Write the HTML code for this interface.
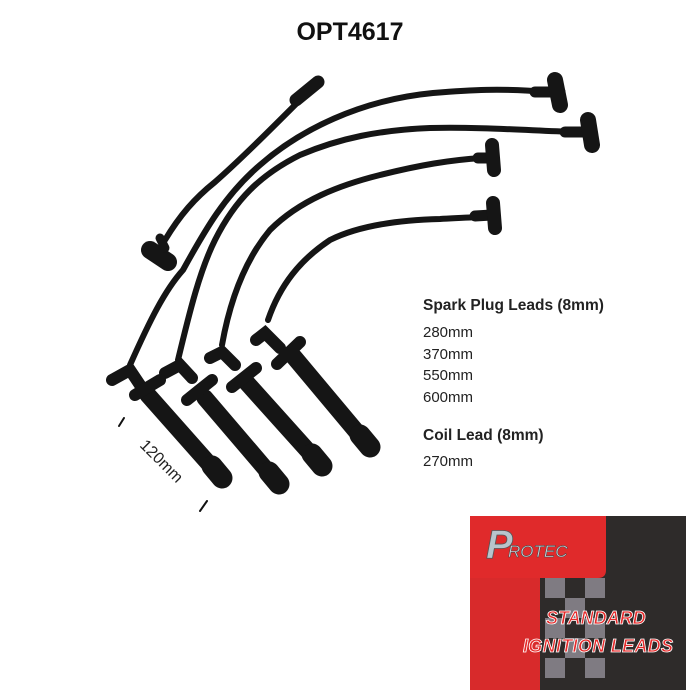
<!DOCTYPE html>
<html><head><meta charset="utf-8"><style>
body{margin:0;background:#fff;width:700px;height:700px;overflow:hidden;position:relative;font-family:"Liberation Sans",sans-serif}
.t{position:absolute;color:#222}
</style></head><body>
<div class="t" style="left:0;width:700px;top:18px;text-align:center;font-size:25px;font-weight:bold;color:#111">OPT4617</div>
<div class="t" style="left:423px;top:297px;font-size:15.5px;font-weight:bold">Spark Plug Leads (8mm)</div>
<div class="t" style="left:423px;top:322px;font-size:15px;line-height:21.5px">280mm<br>370mm<br>550mm<br>600mm</div>
<div class="t" style="left:423px;top:427px;font-size:15.5px;font-weight:bold">Coil Lead (8mm)</div>
<div class="t" style="left:423px;top:453px;font-size:15px">270mm</div>
<div class="t" style="left:134px;top:453px;font-size:16px;transform:rotate(45deg);transform-origin:center">120mm</div>
<svg width="700" height="700" style="position:absolute;left:0;top:0">
<g fill="none" stroke="#151515" stroke-linecap="round">
<!-- coil lead -->
<path d="M165 240 C180 215 195 198 215 182 C240 160 270 130 300 100" stroke-width="6"/>
<!-- lead 1 -->
<path d="M130 365 C150 320 165 290 183 270 C205 230 225 195 260 165 C300 130 360 100 433 93 C470 90 500 88 548 92" stroke-width="6"/>
<!-- lead 2 -->
<path d="M178 360 C190 310 200 270 215 240 C235 200 260 175 300 155 C340 138 380 130 430 128 C480 127 520 130 575 132" stroke-width="6"/>
<!-- lead 3 -->
<path d="M222 345 C230 300 245 260 270 230 C300 200 340 185 380 175 C420 165 450 160 482 158" stroke-width="6"/>
<!-- lead 4 -->
<path d="M268 320 C280 285 300 260 330 240 C360 225 400 220 440 219 C460 218 475 217 484 217" stroke-width="6"/>
<!-- plug tubes -->
<path d="M148 395 L218 474" stroke-width="17"/>
<path d="M205 398 L275 480" stroke-width="17"/>
<path d="M247 383 L318 462" stroke-width="17"/>
<path d="M294 357 L366 443" stroke-width="17"/>
<path d="M212 466 L222 478" stroke-width="21"/>
<path d="M269 472 L279 484" stroke-width="21"/>
<path d="M312 454 L322 466" stroke-width="21"/>
<path d="M360 435 L370 447" stroke-width="21"/>
<!-- boots -->
<path d="M112 380 L130 370 L140 385" stroke-width="12"/>
<path d="M165 373 L180 365 L192 378" stroke-width="12"/>
<path d="M210 358 L222 352 L235 365" stroke-width="12"/>
<path d="M256 340 L265 333 L280 348" stroke-width="12"/>
<path d="M135 395 L160 380" stroke-width="12"/>
<path d="M187 400 L212 380" stroke-width="12"/>
<path d="M232 387 L256 368" stroke-width="12"/>
<path d="M277 364 L300 342" stroke-width="12"/>
<!-- top boots -->
<path d="M296 100 L318 82" stroke-width="13"/>
<path d="M535 92 L560 92" stroke-width="11"/>
<path d="M555 80 L560 105" stroke-width="16"/>
<path d="M565 132 L590 132" stroke-width="11"/>
<path d="M588 120 L592 145" stroke-width="16"/>
<path d="M478 158 L492 158" stroke-width="11"/>
<path d="M492 145 L494 170" stroke-width="14"/>
<path d="M475 216 L492 215" stroke-width="11"/>
<path d="M493 203 L495 228" stroke-width="14"/>
<path d="M150 250 L168 262" stroke-width="18"/>
<path d="M160 238 L165 248" stroke-width="9"/>
<!-- ticks -->
<path d="M119 426 L124 418" stroke="#111" stroke-width="2"/>
<path d="M200 511 L207 501" stroke="#111" stroke-width="2"/>
</g>
<!-- logo -->
<rect x="470" y="516" width="216" height="174" fill="#2e2b2a"/>
<rect x="470" y="516" width="70" height="174" fill="#d82a2b"/>
<path d="M470 516 H606 V570 Q606 578 598 578 H470 Z" fill="#e02a2b"/>
<g fill="#7f7b82">
<rect x="545" y="578" width="20" height="20"/><rect x="585" y="578" width="20" height="20"/>
<rect x="565" y="598" width="20" height="20"/><rect x="545" y="618" width="20" height="20"/>
<rect x="585" y="618" width="20" height="20"/><rect x="565" y="638" width="20" height="20"/>
<rect x="545" y="658" width="20" height="20"/><rect x="585" y="658" width="20" height="20"/>
</g>
<text x="486" y="558" font-family="Liberation Sans" font-style="italic" font-weight="bold" font-size="40" fill="#b8c4cc" stroke="#555" stroke-width="0.8">P</text>
<text x="508" y="557" font-family="Liberation Sans" font-style="italic" font-size="17" fill="#c8d0d8" stroke="#444" stroke-width="0.5">ROTEC</text>
<text x="546" y="624" font-family="Liberation Sans" font-style="italic" font-weight="bold" font-size="18" fill="#e62b2b" stroke="#fff" stroke-width="0.8">STANDARD</text>
<text x="523" y="652" font-family="Liberation Sans" font-style="italic" font-weight="bold" font-size="18" fill="#e62b2b" stroke="#fff" stroke-width="0.8" textLength="150">IGNITION LEADS</text>
</svg>
</body></html>
